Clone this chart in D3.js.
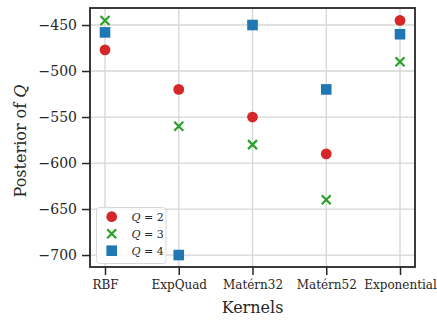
<!DOCTYPE html>
<html>
<head>
<meta charset="utf-8">
<script src="https://d3js.org/d3.v7.min.js"></script>
<style>
  body { margin: 0; background: #fff; }
  text { font-family: "DejaVu Serif", serif; fill: #262626; }
</style>
</head>
<body>
<svg id="chart" width="437" height="322"></svg>
<script>
const kernels = ["RBF", "ExpQuad", "Matérn32", "Matérn52", "Exponential"];
const q2 = [-477, -520, -550, -590, -445];
const q3 = [-445, -560, -580, -640, -490];
const q4 = [-458, -700, -450, -520, -460];
const yTicks = [-450, -500, -550, -600, -650, -700];

const svg = d3.select("#chart");
const plotL = 90, plotR = 415, plotT = 8, plotB = 267;

const x = d3.scalePoint().domain(kernels).range([105, 400]);
const y = d3.scaleLinear().domain([-431.5, -713]).range([plotT, plotB]);

// grid
yTicks.forEach(t => {
  svg.append("line")
    .attr("x1", plotL).attr("x2", plotR)
    .attr("y1", y(t)).attr("y2", y(t))
    .attr("stroke", "#d6d6d6").attr("stroke-width", 1.3);
});
kernels.forEach(k => {
  svg.append("line")
    .attr("x1", x(k)).attr("x2", x(k))
    .attr("y1", plotT).attr("y2", plotB)
    .attr("stroke", "#d6d6d6").attr("stroke-width", 1.3);
});

// axes
const xAxis = svg.append("g")
  .attr("transform", `translate(0,${plotB})`)
  .call(d3.axisBottom(x).tickSize(8).tickPadding(5));
const yAxis = svg.append("g")
  .attr("transform", `translate(${plotL},0)`)
  .call(d3.axisLeft(y).tickValues(yTicks).tickSize(8).tickPadding(5)
    .tickFormat(d => "\u2212" + Math.abs(d)));
[xAxis, yAxis].forEach(a => {
  a.select(".domain").remove();
  a.selectAll(".tick line").attr("stroke", "#262626").attr("stroke-width", 1.5);
  a.selectAll(".tick text").attr("fill", "#262626").style("font-family", "DejaVu Serif");
});
xAxis.selectAll(".tick text").style("font-size", "12px");
yAxis.selectAll(".tick text").style("font-size", "14px");

// frame
svg.append("rect")
  .attr("x", plotL).attr("y", plotT)
  .attr("width", plotR - plotL).attr("height", plotB - plotT)
  .attr("fill", "none").attr("stroke", "#262626").attr("stroke-width", 1.8);

// markers
const red = "#d62728", green = "#2ca02c", blue = "#1f77b4";
function circle(g, cx, cy) {
  g.append("circle").attr("cx", cx).attr("cy", cy).attr("r", 5.4).attr("fill", red);
}
function cross(g, cx, cy) {
  const s = 4.5;
  g.append("path")
    .attr("d", `M${cx - s},${cy - s}L${cx + s},${cy + s}M${cx - s},${cy + s}L${cx + s},${cy - s}`)
    .attr("stroke", green).attr("stroke-width", 2.2).attr("fill", "none");
}
function square(g, cx, cy) {
  const s = 5.3;
  g.append("rect").attr("x", cx - s).attr("y", cy - s)
    .attr("width", 2 * s).attr("height", 2 * s).attr("fill", blue);
}

const marks = svg.append("g");
kernels.forEach((k, i) => circle(marks, x(k), y(q2[i])));
kernels.forEach((k, i) => cross(marks, x(k), y(q3[i])));
kernels.forEach((k, i) => square(marks, x(k), y(q4[i])));

// legend
const lg = svg.append("g");
lg.append("rect")
  .attr("x", 96.5).attr("y", 207.5).attr("width", 69.5).attr("height", 56)
  .attr("rx", 3).attr("fill", "#fff").attr("fill-opacity", 0.8)
  .attr("stroke", "#d9d9d9").attr("stroke-width", 1);
const legendItems = [
  { label: "2", draw: circle },
  { label: "3", draw: cross },
  { label: "4", draw: square }
];
legendItems.forEach((d, i) => {
  const cy = 216.7 + i * 17;
  d.draw(lg, 111.7, cy);
  const t = lg.append("text")
    .attr("x", 131.5).attr("y", cy + 4)
    .style("font-size", "11px");
  t.append("tspan").attr("font-style", "italic").text("Q");
  t.append("tspan").text(" = " + d.label);
});

// axis titles
svg.append("text")
  .attr("x", (plotL + plotR) / 2).attr("y", 313)
  .attr("text-anchor", "middle")
  .style("font-size", "16px")
  .text("Kernels");
const yl = svg.append("text")
  .attr("transform", "translate(26,141) rotate(-90)")
  .attr("text-anchor", "middle")
  .style("font-size", "16px");
yl.append("tspan").text("Posterior of ");
yl.append("tspan").attr("font-style", "italic").text("Q");
</script>
</body>
</html>
